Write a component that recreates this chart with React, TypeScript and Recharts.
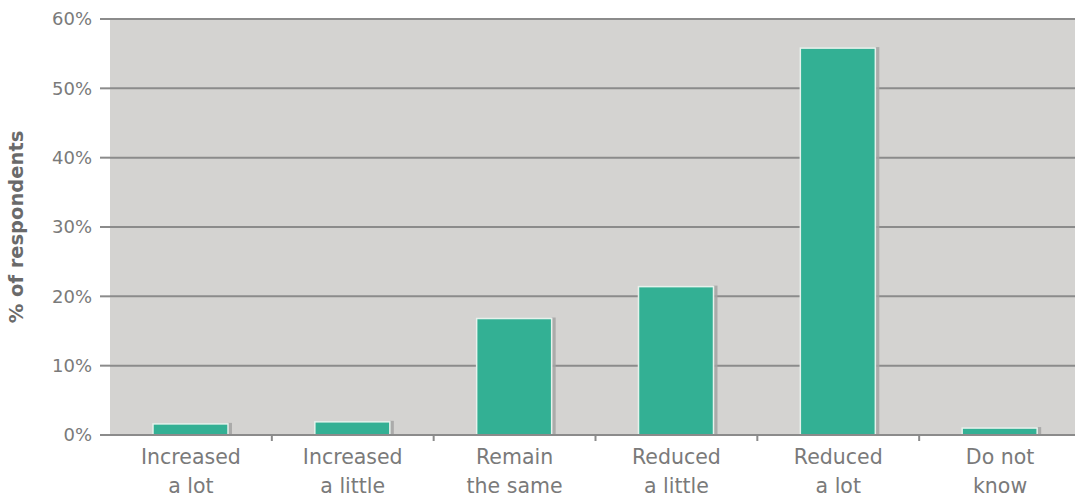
import React from "react";
import { BarChart, Bar, XAxis, YAxis, CartesianGrid } from "recharts";

const categories = [
  ["Increased", "a lot"],
  ["Increased", "a little"],
  ["Remain", "the same"],
  ["Reduced", "a little"],
  ["Reduced", "a lot"],
  ["Do not", "know"],
];
const shares = [1.6, 1.9, 16.8, 21.4, 55.8, 1.0];
const yTicks = [0, 10, 20, 30, 40, 50, 60];

const data = categories.map((c, i) => ({ name: c.join(" "), value: shares[i] }));

const W = 1090;
const H = 502;
const margin = { top: 19, right: 9, bottom: 0, left: 0 };
const yAxisWidth = 110;
const band = (W - margin.left - margin.right - yAxisWidth) / categories.length;

const GRID = "#8b8b8b";
const TEXT = "#7a7a7a";
const FONT = "'DejaVu Sans', Verdana, sans-serif";

// teal bar with a pale rim and a grey drop shadow on the right
const ShadowBar = (props: any) => {
  const { x, y, width, height } = props;
  if (height <= 0) return null;
  return (
    <g>
      <rect x={x + width} y={y - 1} width={4} height={height + 1} fill="#a3a3a3" opacity={0.85} />
      <rect x={x} y={y} width={width} height={height} fill="#33b094" stroke="#e6f1ec" strokeWidth={1.5} />
    </g>
  );
};

const CategoryTick = (props: any) => {
  const { x, y, payload, index } = props;
  const lines = categories[index] || [payload.value];
  return (
    <g>
      {index > 0 && (
        <line x1={x - band / 2} x2={x - band / 2} y1={y - 8} y2={y - 2} stroke={GRID} strokeWidth={2} />
      )}
      {lines.map((t: string, i: number) => (
        <text key={i} x={x} y={y + 21 + i * 29} textAnchor="middle" fill={TEXT} fontSize={20.5} fontFamily={FONT}>
          {t}
        </text>
      ))}
    </g>
  );
};

export default function App() {
  return (
    <div style={{ position: "absolute", left: 0, top: 0, width: 1075, height: 502, overflow: "hidden", background: "#fff" }}>
      <BarChart width={W} height={H} data={data} margin={margin} barSize={75}>
        <CartesianGrid fill="#d4d3d1" stroke={GRID} strokeWidth={2} vertical={false} />
        <XAxis
          dataKey="name"
          interval={0}
          height={67}
          axisLine={{ stroke: GRID, strokeWidth: 2 }}
          tickLine={false}
          tick={<CategoryTick />}
        />
        <YAxis
          width={yAxisWidth}
          domain={[0, 60]}
          ticks={yTicks}
          interval={0}
          axisLine={false}
          tickSize={10}
          tickMargin={8}
          tickLine={{ stroke: GRID, strokeWidth: 2 }}
          tickFormatter={(v: number) => `${v}%`}
          tick={{ fill: TEXT, fontSize: 18, fontFamily: FONT }}
          label={{
            value: "% of respondents",
            angle: -90,
            position: "insideLeft",
            offset: 16,
            style: { fill: "#6a6a6a", fontSize: 19.5, fontWeight: "bold", fontFamily: FONT, textAnchor: "middle" },
          }}
        />
        <Bar dataKey="value" shape={<ShadowBar />} isAnimationActive={false} />
      </BarChart>
    </div>
  );
}
